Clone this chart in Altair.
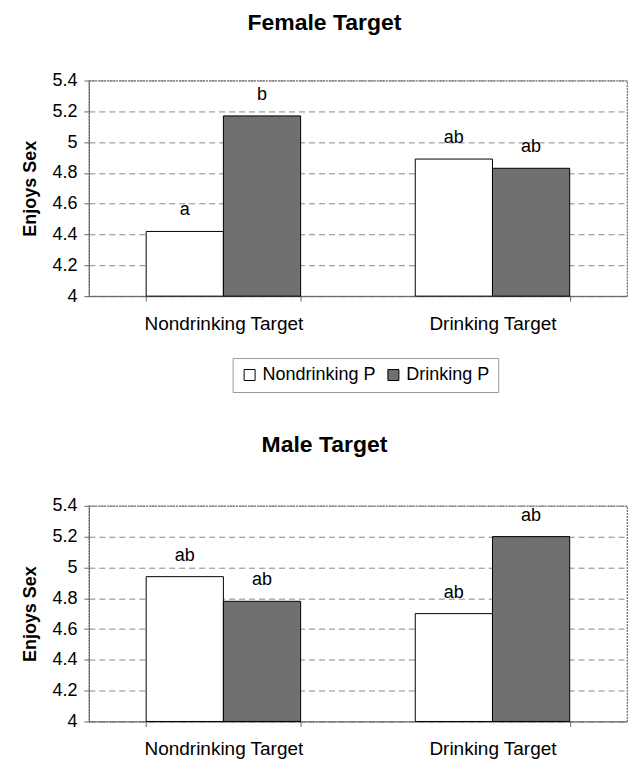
import altair as alt
import pandas as pd

targets = ["Nondrinking Target", "Drinking Target"]
participants = ["Nondrinking P", "Drinking P"]

female_nd_p = [4.42, 4.89]
female_d_p = [5.17, 4.83]
female_sig_nd = ["a", "ab"]
female_sig_d = ["b", "ab"]

male_nd_p = [4.94, 4.70]
male_d_p = [4.78, 5.20]
male_sig_nd = ["ab", "ab"]
male_sig_d = ["ab", "ab"]

y_ticks = [4.0, 4.2, 4.4, 4.6, 4.8, 5.0, 5.2, 5.4]
y_base = 4.0
FONT = "Liberation Sans"


def build(nd, d, sig_nd, sig_d):
    rows = []
    for i, t in enumerate(targets):
        rows.append({"target": t, "participant": participants[0], "value": nd[i], "sig": sig_nd[i]})
        rows.append({"target": t, "participant": participants[1], "value": d[i], "sig": sig_d[i]})
    return pd.DataFrame(rows)


def panel(df, title, show_legend, title_offset):
    base = alt.Chart(df).encode(
        x=alt.X(
            "target:N",
            sort=targets,
            title=None,
            scale=alt.Scale(paddingInner=0.426, paddingOuter=0.213),
            axis=alt.Axis(
                labelAngle=0,
                labelFontSize=19,
                labelFont=FONT,
                labelColor="black",
                labelPadding=13,
                tickBand="extent",
                tickSize=5,
                tickColor="#666",
                domainColor="#666",
                grid=False,
            ),
        ),
        xOffset=alt.XOffset("participant:N", sort=participants),
        y=alt.Y(
            "value:Q",
            title="Enjoys Sex",
            scale=alt.Scale(domain=[4, 5.4], nice=False, zero=False),
            axis=alt.Axis(
                values=y_ticks,
                format=".2~f",
                labelFontSize=18,
                labelFont=FONT,
                labelColor="black",
                labelPadding=7,
                titleFontSize=18,
                titleFont=FONT,
                titleFontWeight="bold",
                titleColor="black",
                titlePadding=12,
                tickSize=5,
                tickColor="#666",
                domainColor="#666",
                grid=True,
                gridColor="#888",
                gridDash=[6, 4],
                gridWidth=1,
            ),
        ),
    )
    if show_legend:
        leg = alt.Legend(
            title=None,
            orient="none",
            legendX=144,
            legendY=278,
            direction="horizontal",
            strokeColor="#999",
            padding=8,
            symbolType="square",
            symbolSize=121,
            symbolStrokeColor="black",
            symbolStrokeWidth=1,
            labelFontSize=18,
            labelFont=FONT,
            labelColor="black",
            labelOffset=4,
            columnPadding=8,
        )
    else:
        leg = None
    bars = base.mark_bar(stroke="black", strokeWidth=1).encode(
        y2=alt.Y2(datum=y_base),
        color=alt.Color(
            "participant:N",
            sort=participants,
            scale=alt.Scale(domain=participants, range=["white", "#707070"]),
            legend=leg,
        ),
    )
    text = base.mark_text(dy=-21, fontSize=18, font=FONT, color="black", baseline="middle").encode(
        text="sig:N"
    )
    return (bars + text).properties(
        width=539,
        height=216,
        title=alt.TitleParams(
            title, fontSize=23, font=FONT, fontWeight="bold", color="black",
            anchor="middle", frame="bounds", offset=title_offset,
        ),
    )


female = panel(build(female_nd_p, female_d_p, female_sig_nd, female_sig_d), "Female Target", True, 37)
male = panel(build(male_nd_p, male_d_p, male_sig_nd, male_sig_d), "Male Target", False, 40)

chart = (
    alt.vconcat(female, male, spacing=39)
    .resolve_legend(color="independent")
    .resolve_scale(color="independent")
    .configure_view(stroke="#666", strokeDash=[2, 1], strokeWidth=1.2)
    .properties(padding={"left": 13, "top": 2, "right": 5, "bottom": 2}, background="white")
)

chart.save("out.html", embed_options={"renderer": "svg", "actions": False})
